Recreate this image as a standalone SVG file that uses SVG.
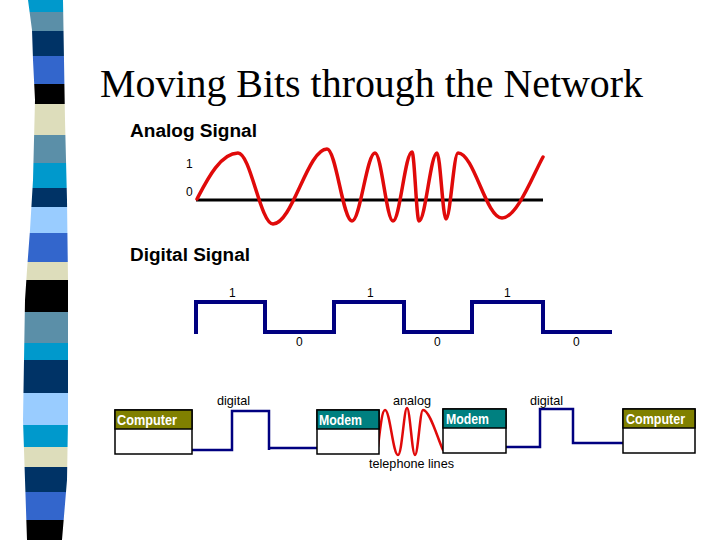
<svg xmlns="http://www.w3.org/2000/svg" width="720" height="540" viewBox="0 0 720 540">
<style>
.title{font-family:"Liberation Serif","Times New Roman",serif;font-size:41px;fill:#000}
.head{font-family:"Liberation Sans",Arial,sans-serif;font-weight:bold;font-size:18px;fill:#000}
.small{font-family:"Liberation Sans",Arial,sans-serif;font-size:12px;fill:#000}
.lbl{font-family:"Liberation Sans",Arial,sans-serif;font-size:13px;fill:#000}
.boxt{font-family:"Liberation Sans",Arial,sans-serif;font-weight:bold;font-size:15px;fill:#fff}
.box{fill:#fff;stroke:#000;stroke-width:1.5}
.red{fill:none;stroke:#e00a0a;stroke-linejoin:round;stroke-linecap:round}
.navy{fill:none;stroke:#000080}
</style>
<defs>
<clipPath id="bar">
<polygon points="28,0 63,0 65,120 67,200 68,280 68,360 68,420 67,480 62,540 27,540 25,480 23,420 24,360 25,300 27,270 30,230 33,180 34,140 35,100 33,60 32,30"/>
</clipPath>
</defs>
<rect width="720" height="540" fill="#fff"/>
<g id="stripes" clip-path="url(#bar)">
<rect x="0" y="0" width="80" height="12" fill="#0099cc"/>
<rect x="0" y="12" width="80" height="19" fill="#5b8fa8"/>
<rect x="0" y="31" width="80" height="25" fill="#003366"/>
<rect x="0" y="56" width="80" height="28" fill="#3366cc"/>
<rect x="0" y="84" width="80" height="20" fill="#000"/>
<rect x="0" y="104" width="80" height="31" fill="#ddddbb"/>
<rect x="0" y="135" width="80" height="28" fill="#5b8fa8"/>
<rect x="0" y="163" width="80" height="25" fill="#0099cc"/>
<rect x="0" y="188" width="80" height="19" fill="#003366"/>
<rect x="0" y="207" width="80" height="26" fill="#99ccff"/>
<rect x="0" y="233" width="80" height="29" fill="#3366cc"/>
<rect x="0" y="262" width="80" height="18" fill="#ddddbb"/>
<rect x="0" y="280" width="80" height="32" fill="#000"/>
<rect x="0" y="312" width="80" height="31" fill="#5b8fa8"/>
<rect x="0" y="343" width="80" height="17" fill="#0099cc"/>
<rect x="0" y="360" width="80" height="33" fill="#003366"/>
<rect x="0" y="393" width="80" height="32" fill="#99ccff"/>
<rect x="0" y="425" width="80" height="22" fill="#0099cc"/>
<rect x="0" y="447" width="80" height="20" fill="#ddddbb"/>
<rect x="0" y="467" width="80" height="25" fill="#003366"/>
<rect x="0" y="492" width="80" height="28" fill="#3366cc"/>
<rect x="0" y="520" width="80" height="20" fill="#000"/>
</g>
<text class="title" x="100" y="97" textLength="543" lengthAdjust="spacingAndGlyphs">Moving Bits through the Network</text>

<g id="analog">
<text class="head" x="130" y="137" textLength="127" lengthAdjust="spacingAndGlyphs">Analog Signal</text>
<text class="small" x="186" y="168">1</text>
<text class="small" x="186" y="196">0</text>
<line x1="196" y1="200" x2="543" y2="200" stroke="#000" stroke-width="3"/>
<path class="red" stroke-width="3.5" d="M197,199 C206,182 220,153 238,153 C250.6,153 260.4,224 273,224 C292.4,224 307.6,149 327,149 C336,149 343,221 352,221 C360.3,221 366.7,153 375,153 C381.5,153 386.5,221 393,221 C399.8,221 405.2,152 412,152 C414.5,152 416.5,221 419,221 C425.5,221 430.5,153 437,153 C440.2,153 442.8,219 446,219 C450.3,219 453.7,153 458,153 C474,153 486,218 502,218 C517,218 533,175 543,157"/>
</g>

<g id="digital">
<text class="head" x="130" y="261" textLength="120" lengthAdjust="spacingAndGlyphs">Digital Signal</text>
<path class="navy" stroke-width="4" d="M196,334 V302 H265 V332 H334 V302 H404 V332 H472 V302 H543 V332 H612"/>
<text class="small" x="229" y="297">1</text>
<text class="small" x="367" y="297">1</text>
<text class="small" x="504" y="297">1</text>
<text class="small" x="296" y="346">0</text>
<text class="small" x="434" y="346">0</text>
<text class="small" x="573" y="346">0</text>
</g>

<g id="connectors">
<path class="navy" stroke-width="2.5" d="M192,450 H232 V411 H269 V450 M269,448 H317"/>
<path class="navy" stroke-width="2.5" d="M506,447 H540 V409 H573 V443 H623"/>
<path class="red" stroke-width="2.5" d="M378,447 C380,430 382,410 385,410 C390,410 393,455 398,455 C402,455 404,408 407,408 C410,408 412,455 415,455 C418,455 420,410 423,410 C430,410 438,440 443,450"/>
</g>
<text class="lbl" x="217" y="405" textLength="33" lengthAdjust="spacingAndGlyphs">digital</text>
<text class="lbl" x="393" y="405" textLength="38" lengthAdjust="spacingAndGlyphs">analog</text>
<text class="lbl" x="530" y="405" textLength="33" lengthAdjust="spacingAndGlyphs">digital</text>
<text class="lbl" x="369" y="468" textLength="85" lengthAdjust="spacingAndGlyphs">telephone lines</text>

<g id="computer1">
<rect class="box" x="115" y="410" width="77" height="44"/>
<rect x="115" y="410" width="77" height="19" fill="#808000" stroke="#000" stroke-width="1.5"/>
<text class="boxt" x="117" y="425" textLength="60" lengthAdjust="spacingAndGlyphs">Computer</text>
</g>
<g id="modem1">
<rect class="box" x="317" y="410" width="62" height="44"/>
<rect x="317" y="410" width="62" height="19" fill="#008080" stroke="#000" stroke-width="1.5"/>
<text class="boxt" x="319" y="425" textLength="43" lengthAdjust="spacingAndGlyphs">Modem</text>
</g>
<g id="modem2">
<rect class="box" x="443" y="409" width="63" height="44"/>
<rect x="443" y="409" width="63" height="19" fill="#008080" stroke="#000" stroke-width="1.5"/>
<text class="boxt" x="446" y="424" textLength="43" lengthAdjust="spacingAndGlyphs">Modem</text>
</g>
<g id="computer2">
<rect class="box" x="623" y="409" width="72" height="44"/>
<rect x="623" y="409" width="72" height="19" fill="#808000" stroke="#000" stroke-width="1.5"/>
<text class="boxt" x="626" y="424" textLength="59" lengthAdjust="spacingAndGlyphs">Computer</text>
</g>
</svg>
